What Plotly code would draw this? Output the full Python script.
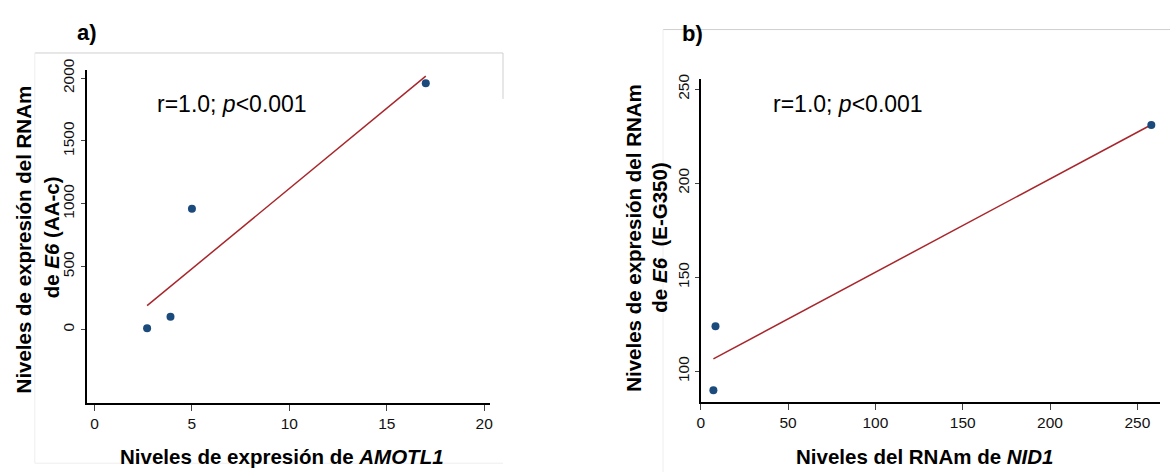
import numpy as np
import plotly.graph_objects as go

# Panel a data
a_x = [2.7, 3.9, 5.0, 17.0]
a_y = [10, 100, 960, 1960]
a_xticks = [0, 5, 10, 15, 20]
a_yticks = [0, 500, 1000, 1500, 2000]

# Panel b data
b_x = [7.2, 8.4, 258]
b_y = [90, 124, 231]
b_xticks = [0, 50, 100, 150, 200, 250]
b_yticks = [100, 150, 200, 250]

stat_text = "r=1.0; <i>p</i><0.001"

W, H = 1173, 472
FONT = "Arial, Liberation Sans, sans-serif"
DOT = "#1b4a7c"
LINE = "#a8262b"

def px(x):
    return x / W

def py(y):
    return (H - y) / H

def fit(xs, ys):
    m, b = np.polyfit(xs, ys, 1)
    xl = np.array([min(xs), max(xs)])
    return xl, m * xl + b

fig = go.Figure()

axl, ayl = fit(a_x, a_y)
fig.add_trace(go.Scatter(x=axl, y=ayl, mode="lines", line=dict(color=LINE, width=1.5),
                         xaxis="x", yaxis="y", showlegend=False))
fig.add_trace(go.Scatter(x=a_x, y=a_y, mode="markers",
                         marker=dict(color=DOT, size=8, symbol="circle"),
                         xaxis="x", yaxis="y", showlegend=False))

bxl, byl = fit(b_x, b_y)
fig.add_trace(go.Scatter(x=bxl, y=byl, mode="lines", line=dict(color=LINE, width=1.5),
                         xaxis="x2", yaxis="y2", showlegend=False))
fig.add_trace(go.Scatter(x=b_x, y=b_y, mode="markers",
                         marker=dict(color=DOT, size=8, symbol="circle"),
                         xaxis="x2", yaxis="y2", showlegend=False))

axis_common = dict(showgrid=False, zeroline=False, showline=True, linecolor="black",
                   linewidth=2, ticks="outside", tickwidth=1, tickcolor="#444",
                   tickfont=dict(family=FONT, size=15.5, color="#111"))

fig.update_layout(
    width=W, height=H,
    margin=dict(l=0, r=0, t=0, b=0),
    paper_bgcolor="white", plot_bgcolor="white",
    xaxis=dict(domain=[px(83), px(489)], range=[-0.41, 20.3], tickvals=a_xticks,
               anchor="y", ticklen=6, **axis_common),
    yaxis=dict(domain=[py(401), py(60)], range=[-583, 2068], tickvals=a_yticks,
               tickangle=-90, anchor="x", ticklen=4, **axis_common),
    xaxis2=dict(domain=[px(701), px(1163)], range=[0, 263], tickvals=b_xticks,
                anchor="y2", ticklen=6, **axis_common),
    yaxis2=dict(domain=[py(400), py(70)], range=[83.9, 255.2], tickvals=b_yticks,
                tickangle=-90, anchor="x2", ticklen=4, **axis_common),
)

# Light frames around panels
frame_faint = "#eeeeee"
frame = "#cfcfcf"
shapes = [
    dict(type="line", xref="paper", yref="paper", x0=px(31), x1=px(502), y0=py(43), y1=py(43),
         line=dict(color=frame, width=1)),
    dict(type="line", xref="paper", yref="paper", x0=px(502), x1=px(502), y0=py(43), y1=py(90),
         line=dict(color=frame, width=1)),
    dict(type="line", xref="paper", yref="paper", x0=px(31), x1=px(31), y0=py(43), y1=py(463),
         line=dict(color=frame_faint, width=1)),
    dict(type="line", xref="paper", yref="paper", x0=px(31), x1=px(502), y0=py(463), y1=py(463),
         line=dict(color=frame_faint, width=1)),
    dict(type="line", xref="paper", yref="paper", x0=px(663), x1=1, y0=py(19), y1=py(19),
         line=dict(color=frame, width=1)),
    dict(type="line", xref="paper", yref="paper", x0=px(663), x1=px(663), y0=py(19), y1=0,
         line=dict(color=frame_faint, width=1)),
]
fig.update_layout(shapes=shapes)

TITLE_SIZE = 20.5
ann = []

def add_text(text, x, y, size, xanchor="center", angle=0):
    ann.append(dict(text=text, x=px(x), y=py(y), xref="paper", yref="paper",
                    showarrow=False, xanchor=xanchor, yanchor="middle", textangle=angle,
                    font=dict(family=FONT, size=size, color="black")))

# Panel labels
add_text("<b>a)</b>", 84, 22, 22)
add_text("<b>b)</b>", 693, 23, 22)
# Stat text
add_text(stat_text, 152, 95, 23, xanchor="left")
add_text(stat_text, 772, 95, 23, xanchor="left")
# X axis titles
add_text("<b>Niveles de expresión de <i>AMOTL1</i></b>", 280, 456, TITLE_SIZE)
add_text("<b>Niveles del RNAm de <i>NID1</i></b>", 926, 456, TITLE_SIZE)
# Y axis titles (two lines each)
add_text("<b>Niveles de expresión del RNAm</b>", 20, 234, TITLE_SIZE, angle=-90)
add_text("<b>de <i>E6</i> (AA-c)</b>", 48, 232, TITLE_SIZE, angle=-90)
add_text("<b>Niveles de expresión del RNAm</b>", 633, 232, TITLE_SIZE, angle=-90)
add_text("<b>de <i>E6</i>  (E-G350)</b>", 660, 232, TITLE_SIZE, angle=-90)
fig.update_layout(annotations=ann)

fig.write_html("out.html", config={"displayModeBar": False},
               post_script="document.body.style.margin='0px';")
